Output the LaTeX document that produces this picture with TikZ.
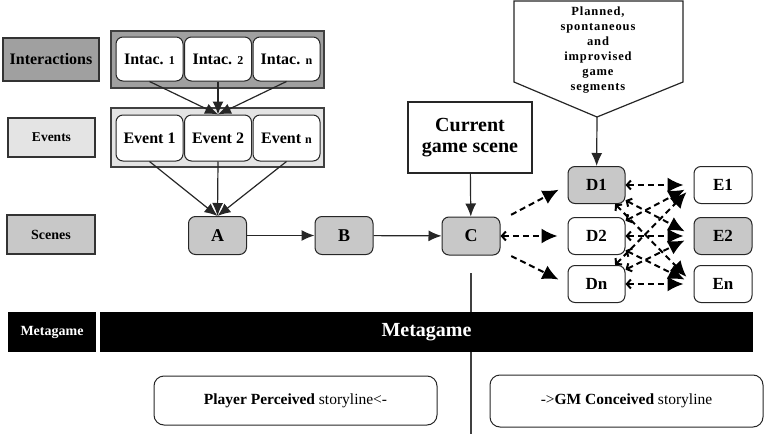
\documentclass[tikz,border=0pt]{standalone}
\usepackage{fontspec}
\setmainfont{Liberation Serif}
\newfontfamily\spacedfont[LetterSpace=7]{Liberation Serif}
\usetikzlibrary{arrows.meta}
\definecolor{midgray}{RGB}{160,160,160}
\definecolor{lightgray2}{RGB}{228,228,228}
\definecolor{scenegray}{RGB}{200,200,200}
\newcommand{\fs}[1]{\fontsize{#1}{#1}\selectfont}
\begin{document}
\begin{tikzpicture}[x=1pt,y=-1pt,
    lab/.style={rectangle,draw=black!80,line width=1.2pt,inner sep=0pt,font=\bfseries\fs{14}},
    grp/.style={draw=black!75,line width=1.3pt},
    rbox/.style={rectangle,rounded corners=7pt,draw=black!85,line width=1pt,inner sep=0pt,
      minimum width=57pt,minimum height=37pt,fill=white,font=\bfseries\fs{17}},
    arr/.style={-{Latex[length=13pt,width=11pt]},line width=1.2pt,black!85},
    darr/.style={-{Latex[length=16pt,width=15pt]},line width=2pt,dash pattern=on 6pt off 4pt,
      shorten >=10pt},
    barr/.style={{Straight Barb[length=4pt,width=9pt]}-{Latex[length=16pt,width=15pt]},
      line width=2pt,dash pattern=on 6pt off 4pt,shorten >=10pt},
    story/.style={rectangle,rounded corners=10pt,draw=black!85,line width=1pt,font=\fs{15.5}}]
  \useasboundingbox (0,0) rectangle (769,434);

  \node[lab,fill=midgray,minimum width=96pt,minimum height=43pt,font=\bfseries\fs{16}] (lint) at (51,59.5) {Interactions};
  \node[lab,fill=lightgray2,minimum width=87pt,minimum height=39pt,font=\bfseries\fs{13.5}] (levt) at (51.5,137.5) {Events};
  \node[lab,fill=scenegray,minimum width=88pt,minimum height=39pt] (lscn) at (51,234.5) {Scenes};
  \node[lab,fill=black,text=white,minimum width=88pt,minimum height=40pt,draw=none] (lmeta) at (52,332) {Metagame};

  \draw[grp,fill=midgray] (111,31) rectangle (324,88);
  \draw[grp,fill=lightgray2] (111,108) rectangle (324,167);

  \node[rbox,minimum width=67pt,minimum height=44pt,font=\bfseries\fs{16}] (i1) at (149.5,59) {Intac. {\fs{12}1}};
  \node[rbox,minimum width=67pt,minimum height=44pt,font=\bfseries\fs{16}] (i2) at (218,59) {Intac. {\fs{12}2}};
  \node[rbox,minimum width=67pt,minimum height=44pt,font=\bfseries\fs{16}] (in) at (286.5,59) {Intac. {\fs{12}n}};
  \node[rbox,minimum width=67pt,minimum height=46pt,font=\bfseries\fs{16}] (e1) at (149.5,138) {Event 1};
  \node[rbox,minimum width=67pt,minimum height=46pt,font=\bfseries\fs{16}] (e2) at (218,138) {Event 2};
  \node[rbox,minimum width=67pt,minimum height=46pt,font=\bfseries\fs{16}] (en) at (286.5,138) {Event {\fs{12}n}};

  \node[rbox,fill=scenegray,minimum width=58pt,minimum height=38pt,font=\bfseries\fs{18}] (A) at (217.5,235.5) {A};
  \node[rbox,fill=scenegray,minimum width=58pt,minimum height=38pt,font=\bfseries\fs{18}] (B) at (344,235.5) {B};
  \node[rbox,fill=scenegray,minimum width=58pt,minimum height=38pt,font=\bfseries\fs{18}] (C) at (471,236) {C};

  \node[rectangle,draw=black!85,line width=1.2pt,minimum width=124pt,minimum height=71pt,align=center,
    font=\bfseries\fs{20}\linespread{1}] (cur) at (470,137.5) {Current\\[1pt]game scene};

  \draw[black!85,line width=1.2pt,fill=white] (514,1) -- (683,1) -- (683,82) -- (597,117) -- (514,82) -- cycle;
  \coordinate (tip) at (597,117);
  \node[align=center,font=\spacedfont\bfseries\fontsize{12.5}{15}\selectfont,inner sep=0pt] (plan) at (598,50)
    {Planned,\\spontaneous\\and\\improvised\\game\\segments};

  \node[rbox,fill=scenegray] (D1) at (596.5,185) {D1};
  \node[rbox] (D2) at (596.5,236) {D2};
  \node[rbox] (Dn) at (596.5,284) {Dn};
  \node[rbox,minimum width=58pt] (E1) at (723,185) {E1};
  \node[rbox,minimum width=58pt,fill=scenegray] (E2) at (723,236) {E2};
  \node[rbox,minimum width=58pt] (En) at (723,284) {En};

  \coordinate (cut) at (471,273);
  \coordinate (cutend) at (471,434);
  \draw[black!75,line width=1.3pt] (cut) -- (cutend);
  \node[rectangle,fill=black,text=white,minimum width=653pt,minimum height=40pt,font=\bfseries\fs{20}] (meta) at (426.5,332) {Metagame};

  \node[story,minimum width=283pt,minimum height=49pt] (player) at (295.5,400.5) {\textbf{Player Perceived} storyline<-};
  \node[story,minimum width=273pt,minimum height=52pt] (gm) at (626.5,401) {->\textbf{GM Conceived} storyline};

  \draw[arr] (i1.south) -- (e2.north);
  \draw[arr] (i2.south) -- (e2.north);
  \draw[arr] (in.south) -- (e2.north);
  \draw[arr] (e1.south) -- (A.north);
  \draw[arr] (e2.south) -- (A.north);
  \draw[arr] (en.south) -- (A.north);
  \draw[arr] (A) -- (B);
  \draw[arr] (B) -- (C);
  \draw[arr] (cur) -- (C);
  \draw[arr] (tip) -- (D1);

  \draw[darr,shorten <=12pt] (C) -- (D1.west);
  \draw[barr] (C) -- (D2.west);
  \draw[darr,shorten <=12pt] (C) -- (Dn.west);

  \draw[barr] (D1) -- (E1.west);
  \draw[barr] (D1) -- (E2.west);
  \draw[barr] (D1) -- (En.west);
  \draw[barr] (D2) -- (E1.west);
  \draw[barr] (D2) -- (E2.west);
  \draw[barr] (D2) -- (En.west);
  \draw[barr] (Dn) -- (E1.west);
  \draw[barr] (Dn) -- (E2.west);
  \draw[barr] (Dn) -- (En.west);
\end{tikzpicture}
\end{document}
